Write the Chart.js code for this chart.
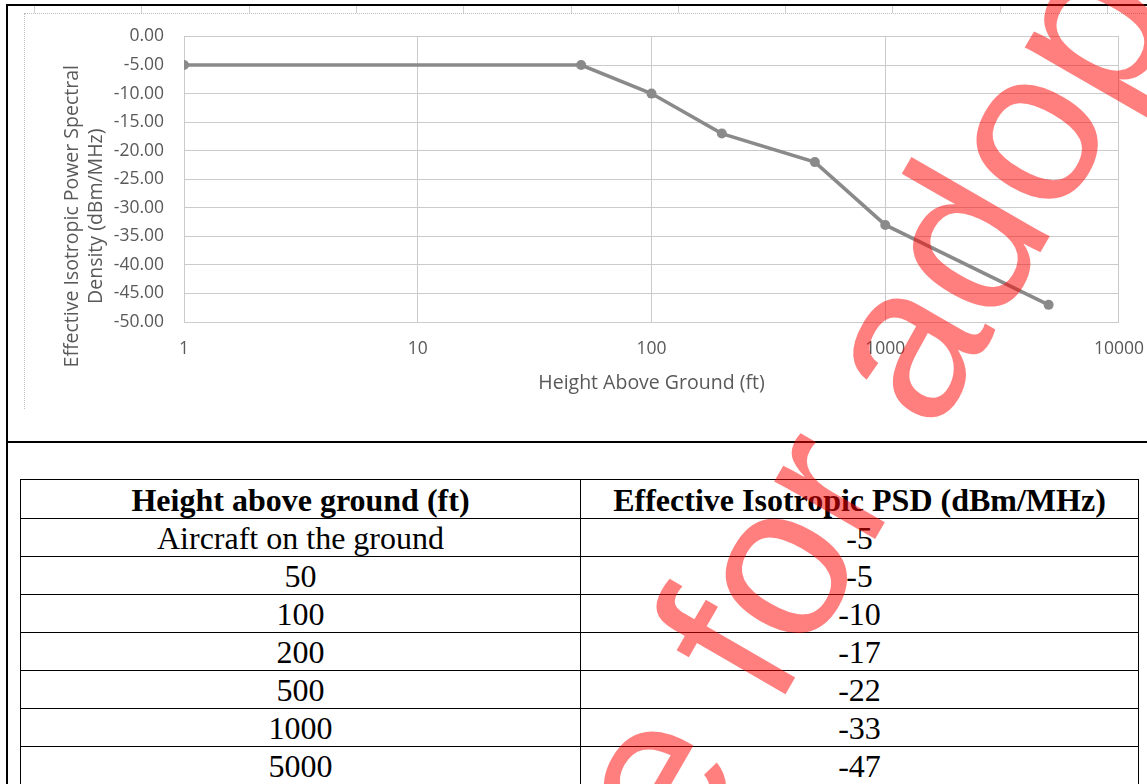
<!DOCTYPE html>
<html>
<head>
<meta charset="utf-8">
<script src="https://cdn.jsdelivr.net/npm/chart.js@4.4.0/dist/chart.umd.min.js"></script>
<style>
  html, body { margin: 0; padding: 0; background: #fff; }
  body { width: 1147px; height: 784px; position: relative; overflow: hidden; }
  .line { position: absolute; background: #000; }
  .stub { position: absolute; top: 6px; width: 1px; height: 7px; background: #cfcfcf; }
  #chartBox { position: absolute; left: 24px; top: 6px; width: 1137px; height: 404px; }
  #chartBorder { position: absolute; left: 24px; top: 13px; width: 1140px; height: 396px;
                 border-left: 1px dotted #bdbdbd; border-top: 1px dotted #bdbdbd; box-sizing: border-box; }
  table { position: absolute; left: 20px; top: 479px; width: 1119px; border-collapse: collapse;
          font-family: "Liberation Serif", "Times New Roman", serif; color: #000; }
  th, td { border: 1.5px solid #000; padding: 0; text-align: center; font-size: 32px; line-height: 36px; }
  tr { height: 38px; }
  th { font-weight: bold; padding-top: 2px; }
  #wm { position: absolute; left: 0; top: 0; pointer-events: none; }
</style>
</head>
<body>
<div class="line" style="left:6px; top:4px; width:1141px; height:2px;"></div>
<div class="line" style="left:6px; top:4px; width:2px; height:780px;"></div>
<div class="line" style="left:6px; top:441px; width:1141px; height:2px;"></div>
<div id="stubs"></div>
<div id="chartBorder"></div>
<div id="chartBox"><canvas id="chart"></canvas></div>
<table id="psdTable"></table>
<svg id="wm" width="1147" height="784">
  <g transform="translate(684 870) rotate(-60)">
    <text id="wmText" x="0" y="0" font-family="Liberation Sans, Arial, sans-serif" font-size="220"
          fill="#ff0000" fill-opacity="0.5">Not suitable for adoption</text>
  </g>
</svg>
<script>
// data
const heightLabels = ['Aircraft on the ground', '50', '100', '200', '500', '1000', '5000'];
const heightValues = [1, 50, 100, 200, 500, 1000, 5000]; // ground is plotted at 1 ft
const psdValues = [-5, -5, -10, -17, -22, -33, -47];
const xTickValues = [1, 10, 100, 1000, 10000];
const yMin = -50;
const yMax = 0;
const yStep = 5;
const xTitle = 'Height Above Ground (ft)';
const yTitleLines = ['Effective Isotropic Power Spectral', 'Density (dBm/MHz)'];
const tableHeaders = ['Height above ground (ft)', 'Effective Isotropic PSD (dBm/MHz)'];

// little grid stubs above the chart frame
const stubs = document.getElementById('stubs');
for (let k = 0; k < 11; k++) {
  const d = document.createElement('div');
  d.className = 'stub';
  d.style.left = (34 + k * 107.3) + 'px';
  stubs.appendChild(d);
}

// table
const table = document.getElementById('psdTable');
let html = '<tr><th style="width:559px">' + tableHeaders[0] + '</th><th>' + tableHeaders[1] + '</th></tr>';
heightLabels.forEach((h, i) => {
  html += '<tr><td>' + h + '</td><td>' + psdValues[i] + '</td></tr>';
});
table.innerHTML = html;

// watermark: put the "e for" part where it sits in the scan
const wmText = document.getElementById('wmText');
const prefix = 'Not suitabl';
wmText.setAttribute('x', -wmText.getSubStringLength(0, prefix.length));

const grey = '#595959';
const gridColor = '#cbcbcb';

const yTitlePlugin = {
  id: 'yTitle',
  afterDraw(chart) {
    const c = chart.ctx;
    const a = chart.chartArea;
    c.save();
    c.fillStyle = grey;
    c.font = '19.5px "Open Sans"';
    c.textAlign = 'center';
    c.textBaseline = 'middle';
    c.translate(a.left - 112, (a.top + a.bottom) / 2 + 37);
    c.rotate(-Math.PI / 2);
    yTitleLines.forEach((t, i) => c.fillText(t, 0, i * 24));
    c.restore();
  }
};

const ctx = document.getElementById('chart').getContext('2d');
new Chart(ctx, {
  type: 'line',
  data: {
    datasets: [{
      data: heightValues.map((h, i) => ({ x: h, y: psdValues[i] })),
      borderColor: '#8a8a8a',
      backgroundColor: '#8a8a8a',
      borderWidth: 3.5,
      pointRadius: 5,
      pointBorderWidth: 0,
      tension: 0
    }]
  },
  options: {
    responsive: true,
    maintainAspectRatio: false,
    animation: false,
    layout: { autoPadding: false, padding: { top: 16, right: 18, bottom: 14, left: 0 } },
    plugins: { legend: { display: false }, tooltip: { enabled: false } },
    scales: {
      x: {
        type: 'logarithmic',
        min: xTickValues[0],
        max: xTickValues[xTickValues.length - 1],
        afterBuildTicks: s => { s.ticks = xTickValues.map(v => ({ value: v })); },
        afterFit: s => { s.height = 74; },
        grid: { color: gridColor, drawTicks: false },
        border: { color: gridColor },
        ticks: {
          padding: 17, color: grey, autoSkip: false, maxRotation: 0,
          font: { family: 'Open Sans', size: 17.5 },
          callback: v => String(v)
        },
        title: {
          display: true, text: xTitle, color: grey, padding: 0,
          font: { family: 'Open Sans', size: 19.5, lineHeight: 1.25 }
        }
      },
      y: {
        min: yMin,
        max: yMax,
        afterFit: s => { s.width = 160; },
        grid: { color: gridColor, drawTicks: false },
        border: { color: gridColor },
        ticks: {
          stepSize: yStep, padding: 20, color: grey,
          font: { family: 'Open Sans', size: 17.5 },
          callback: v => v.toFixed(2)
        }
      }
    }
  },
  plugins: [yTitlePlugin]
});
</script>
</body>
</html>
